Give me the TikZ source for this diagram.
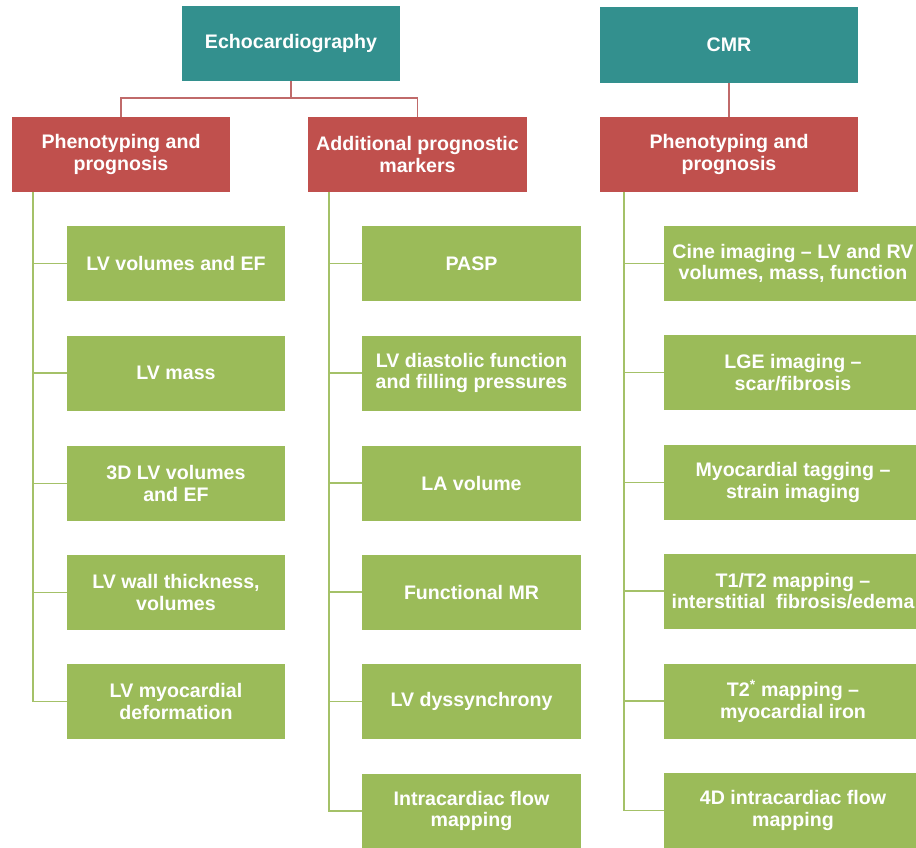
\documentclass[tikz,border=0pt]{standalone}
\usepackage{fontspec}
\setmainfont{Liberation Sans}
\definecolor{teal1}{HTML}{33908E}
\definecolor{red1}{HTML}{C0504D}
\definecolor{green1}{HTML}{9BBB59}
\definecolor{redline}{HTML}{C06A6A}
\definecolor{greenline}{HTML}{A4C168}
\begin{document}
\begin{tikzpicture}[x=1pt,y=1pt,
  box/.style={inner sep=2pt, align=center, text=white, minimum height=75pt,
    font=\bfseries\fontsize{19.6}{21.5}\selectfont},
  tbox/.style={box, fill=teal1},
  rbox/.style={box, fill=red1},
  gbox/.style={box, fill=green1},
  rline/.style={draw=redline, line width=1.8pt},
  gline/.style={draw=greenline, line width=1.8pt}]
\useasboundingbox (0,0) rectangle (916,-848);
\clip (0,0) rectangle (916,-848);
% top level
\node[tbox, minimum width=218pt] (echo) at (291,-43.5) {Echocardiography};
\node[tbox, minimum width=258pt, minimum height=76pt] (cmr) at (729,-45) {CMR};
% second level
\node[rbox, minimum width=218pt] (phen1) at (121,-154.5) {Phenotyping and\\prognosis};
\node[rbox, minimum width=219pt] (add) at (417.5,-154.5) {Additional prognostic\\markers};
\node[rbox, minimum width=258pt] (phen2) at (729,-154.5) {Phenotyping and\\prognosis};
% left column
\node[gbox, minimum width=218pt] (a1) at (176,-263.5) {LV volumes and EF};
\node[gbox, minimum width=218pt] (a2) at (176,-373) {LV mass};
\node[gbox, minimum width=218pt] (a3) at (176,-483.5) {3D LV volumes\\and EF};
\node[gbox, minimum width=218pt] (a4) at (176,-592.5) {LV wall thickness,\\volumes};
\node[gbox, minimum width=218pt] (a5) at (176,-701.5) {LV myocardial\\deformation};
% middle column
\node[gbox, minimum width=219pt] (b1) at (471.5,-263.5) {PASP};
\node[gbox, minimum width=219pt] (b2) at (471.5,-373) {LV diastolic function\\and filling pressures};
\node[gbox, minimum width=219pt] (b3) at (471.5,-483) {LA volume};
\node[gbox, minimum width=219pt] (b4) at (471.5,-592) {Functional MR};
\node[gbox, minimum width=219pt] (b5) at (471.5,-701.5) {LV dyssynchrony};
\node[gbox, minimum width=219pt] (b6) at (471.5,-811) {Intracardiac flow\\mapping};
% right column
\node[gbox, minimum width=258pt] (c1) at (793,-263.5) {Cine imaging -- LV and RV\\volumes, mass, function};
\node[gbox, minimum width=258pt] (c2) at (793,-372.5) {LGE imaging --\\scar/fibrosis};
\node[gbox, minimum width=258pt] (c3) at (793,-482.5) {Myocardial tagging --\\strain imaging};
\node[gbox, minimum width=258pt] (c4) at (793,-591) {T1/T2 mapping --\\interstitial\ \ fibrosis/edema};
\node[gbox, minimum width=258pt] (c5) at (793,-701) {T2\textsuperscript{*} mapping --\\myocardial iron};
\node[gbox, minimum width=258pt] (c6) at (793,-810.5) {4D intracardiac flow\\mapping};
% red connectors
\draw[rline] (echo.south) -- ++(0,-17) -| (phen1.north);
\draw[rline] (echo.south) -- ++(0,-17) -| (add.north);
\draw[rline] (cmr.south) -- (phen2.north);
% spines
\coordinate (sa) at ([xshift=21pt]phen1.south west);
\coordinate (sb) at ([xshift=21pt]add.south west);
\coordinate (sc) at ([xshift=24pt]phen2.south west);
\draw[gline] (sa) |- (a5.west);
\foreach \n in {a1,a2,a3,a4} \draw[gline] (\n.west) -- (\n.west -| sa);
\draw[gline] (sb) |- (b6.west);
\foreach \n in {b1,b2,b3,b4,b5} \draw[gline] (\n.west) -- (\n.west -| sb);
\draw[gline] (sc) |- (c6.west);
\foreach \n in {c1,c2,c3,c4,c5} \draw[gline] (\n.west) -- (\n.west -| sc);
\end{tikzpicture}
\end{document}
